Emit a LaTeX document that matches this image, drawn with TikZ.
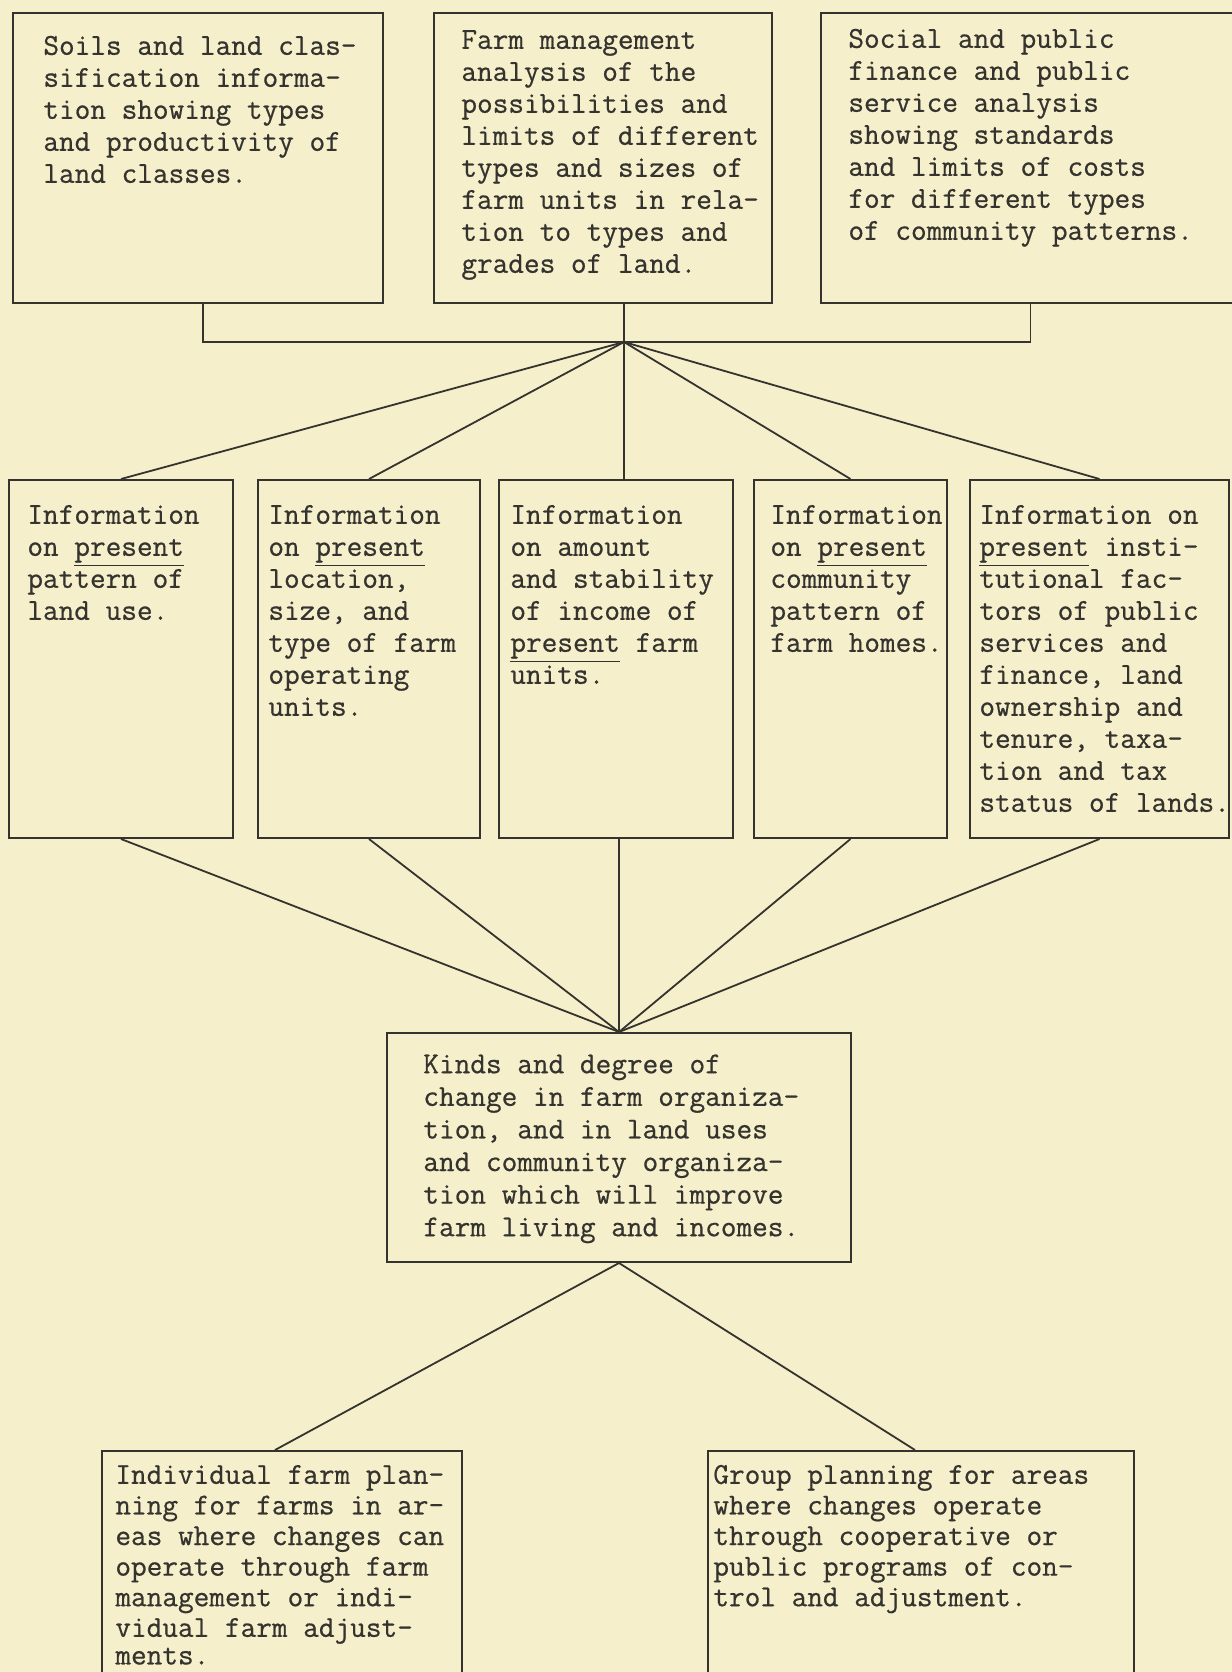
\documentclass[tikz,border=0pt]{standalone}
\usepackage{fontspec}
\newfontfamily\twf{Latin Modern Mono}[BoldFont={Latin Modern Mono},BoldFeatures={FakeBold=0.6}]
\usetikzlibrary{fit}
\definecolor{paper}{HTML}{F6EFCC}
\definecolor{ink}{HTML}{34332E}
\newcommand\twfont{\twf\bfseries\fontsize{15.2}{16}\selectfont}
\newcommand\twfontb{\twf\bfseries\fontsize{15.2}{16.3}\selectfont}
\newcommand\twfontc{\twf\bfseries\fontsize{15.2}{15.3}\selectfont}
\begin{document}
\begin{tikzpicture}[x=0.5pt,y=-0.5pt,
  box/.style={draw=ink,line width=1pt,inner sep=0pt},
  txt/.style={anchor=north west,inner sep=0pt,align=left,font=\twfont,text=ink},
  link/.style={draw=ink,line width=0.9pt}]
\useasboundingbox (0,0) rectangle (1232,1672);
\fill[paper] (0,0) rectangle (1232,1672);
\begin{scope}
\clip (0,0) rectangle (1232,1672);
% top row
\node[box,fit={(13,13)(383,303)}] (A) {};
\node[box,fit={(434,13)(772,303)}] (B) {};
\node[box,fit={(821,13)(1240,303)}] (C) {};
\node[txt] (At) at (43,32) {\strut Soils and land clas-\\sification informa-\\tion showing types\\and productivity of\\land classes.};
\node[txt] (Bt) at (461,26) {\strut Farm management\\analysis of the\\possibilities and\\limits of different\\types and sizes of\\farm units in rela-\\tion to types and\\grades of land.};
\node[txt] (Ct) at (848,25) {\strut Social and public\\finance and public\\service analysis\\showing standards\\and limits of costs\\for different types\\of community patterns.};
% middle row
\node[box,fit={(9,480)(233,838)}] (M1) {};
\node[box,fit={(258,480)(480,838)}] (M2) {};
\node[box,fit={(499,480)(733,838)}] (M3) {};
\node[box,fit={(754,480)(947,838)}] (M4) {};
\node[box,fit={(970,480)(1229,838)}] (M5) {};
\node[txt] (M1t) at (27,501) {\strut Information\\on \underline{present}\\pattern of\\land use.};
\node[txt] (M2t) at (268,501) {\strut Information\\on \underline{present}\\location,\\size, and\\type of farm\\operating\\units.};
\node[txt] (M3t) at (510,501) {\strut Information\\on amount\\and stability\\of income of\\\underline{present} farm\\units.};
\node[txt] (M4t) at (770,501) {\strut Information\\on \underline{present}\\community\\pattern of\\farm homes.};
\node[txt] (M5t) at (979,501) {\strut Information on\\\underline{present} insti-\\tutional fac-\\tors of public\\services and\\finance, land\\ownership and\\tenure, taxa-\\tion and tax\\status of lands.};
% center
\node[box,fit={(387,1033)(851,1262)}] (K) {};
\node[txt,font=\twfontb] (Kt) at (423,1050) {\strut Kinds and degree of\\change in farm organiza-\\tion, and in land uses\\and community organiza-\\tion which will improve\\farm living and incomes.};
% bottom
\node[box,fit={(102,1451)(462,1700)}] (L) {};
\node[box,fit={(708,1451)(1134,1700)}] (R) {};
\node[txt,font=\twfontc] (Lt) at (115,1462) {\strut Individual farm plan-\\ning for farms in ar-\\eas where changes can\\operate through farm\\management or indi-\\vidual farm adjust-\\[-1.5pt]ments.};
\node[txt,font=\twfontc] (Rt) at (713,1462) {\strut Group planning for areas\\where changes operate\\through cooperative or\\public programs of con-\\trol and adjustment.};
% connectors
\coordinate (hub) at (624,342);
\draw[link] ([xshift=2.5pt]A.south) |- (C.south |- hub) -- (C.south);
\draw[link] (B.south -| hub) -- (hub);
\draw[link] (hub) -- (M1.north);
\draw[link] (hub) -- (M2.north);
\draw[link] (hub) -- (M3.north -| hub);
\draw[link] (hub) -- (M4.north);
\draw[link] (hub) -- (M5.north);
\draw[link] (M1.south) -- (K.north);
\draw[link] (M2.south) -- (K.north);
\draw[link] (M3.south -| K.north) -- (K.north);
\draw[link] (M4.south) -- (K.north);
\draw[link] (M5.south) -- (K.north);
\draw[link] (K.south) -- ([xshift=-3.5pt]L.north);
\draw[link] (K.south) -- ([xshift=-3pt]R.north);
\end{scope}
\end{tikzpicture}
\end{document}
